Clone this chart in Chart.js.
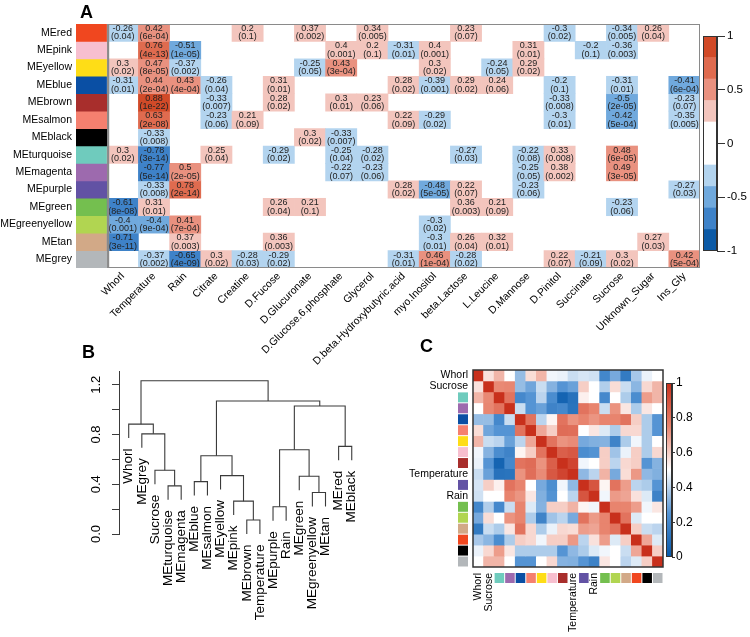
<!DOCTYPE html>
<html><head><meta charset="utf-8">
<script src="https://cdn.jsdelivr.net/npm/chart.js@4.4.1/dist/chart.umd.min.js"></script>
<style>
body{margin:0;background:#fff;}
#wrap{position:relative;width:750px;height:637px;overflow:hidden;background:#fff;}
canvas{position:absolute;left:0;top:0;}
.pl{position:absolute;font:bold 18px "Liberation Sans",Arial,sans-serif;line-height:18px;color:#000;}
</style></head><body>
<div id="wrap">
<canvas id="cA" width="750" height="637"></canvas>
<canvas id="cAbar" width="750" height="637"></canvas>
<canvas id="cB" width="750" height="637"></canvas>
<canvas id="cC" width="750" height="637"></canvas>
<canvas id="cCbar" width="750" height="637"></canvas>
<div class="pl" style="left:80px;top:3px">A</div>
<div class="pl" style="left:82px;top:343px">B</div>
<div class="pl" style="left:420px;top:337px">C</div>
</div>
<script>
const FONT = '"Liberation Sans", Arial, sans-serif';
Chart.defaults.font.family = FONT;
Chart.defaults.color = '#000';
Chart.defaults.animation = false;
Chart.defaults.plugins.legend.display = false;
Chart.defaults.plugins.tooltip.enabled = false;

// ---------- Panel A data ----------
const moduleNames = ['MEred','MEpink','MEyellow','MEblue','MEbrown','MEsalmon','MEblack','MEturquoise','MEmagenta','MEpurple','MEgreen','MEgreenyellow','MEtan','MEgrey'];
const moduleColors = ['#f0471f','#f7bfcf','#fedd17','#0a4fa4','#a82e2c','#f5806f','#000000','#6fcbbd','#9d6aae','#6252a4','#74bf4f','#b1d551','#d2a987','#b3b7ba'];
const traitNames = ['Whorl','Temperature','Rain','Citrate','Creatine','D.Fucose','D.Glucuronate','D.Glucose.6.phosphate','Glycerol','D.beta.Hydroxybutyric.acid','myo.Inositol','beta.Lactose','L.Leucine','D.Mannose','D.Pinitol','Succinate','Sucrose','Unknown_Sugar','Ins_Gly'];
const N = null;
const corrValues = [
  [-0.26,0.42,N,N,0.2,N,0.37,N,0.34,N,N,0.23,N,N,-0.3,N,-0.34,0.26,N],
  [N,0.76,-0.51,N,N,N,N,0.4,0.2,-0.31,0.4,N,N,0.31,N,-0.2,-0.36,N,N],
  [0.3,0.47,-0.37,N,N,N,-0.25,0.43,N,N,0.3,N,-0.24,0.29,N,N,N,N,N],
  [-0.31,0.44,0.43,-0.26,N,0.31,N,N,N,0.28,-0.39,0.29,0.24,N,-0.2,N,-0.31,N,-0.41],
  [N,0.88,N,-0.33,N,0.28,N,0.3,0.23,N,N,N,N,N,-0.33,N,-0.5,N,-0.23],
  [N,0.63,N,-0.23,0.21,N,N,N,N,0.22,-0.29,N,N,N,-0.3,N,-0.42,N,-0.35],
  [N,-0.33,N,N,N,N,0.3,-0.33,N,N,N,N,N,N,N,N,N,N,N],
  [0.3,-0.78,N,0.25,N,-0.29,N,-0.25,-0.28,N,N,-0.27,N,-0.22,0.33,N,0.48,N,N],
  [N,-0.77,0.5,N,N,N,N,-0.22,-0.23,N,N,N,N,-0.25,0.38,N,0.49,N,N],
  [N,-0.33,0.78,N,N,N,N,N,N,0.28,-0.48,0.22,N,-0.23,N,N,N,N,-0.27],
  [-0.61,0.31,N,N,N,0.26,0.21,N,N,N,N,0.36,0.21,N,N,N,-0.23,N,N],
  [-0.4,-0.4,0.41,N,N,N,N,N,N,N,-0.3,N,N,N,N,N,N,N,N],
  [-0.71,N,0.37,N,N,0.36,N,N,N,N,-0.3,0.26,0.32,N,N,N,N,0.27,N],
  [N,-0.37,-0.65,0.3,-0.28,-0.29,N,N,N,-0.31,0.46,-0.28,N,N,0.22,-0.21,0.3,N,0.42]
];
const pValues = [
  ['0.04','6e-04',N,N,'0.1',N,'0.002',N,'0.005',N,N,'0.07',N,N,'0.02',N,'0.005','0.04',N],
  [N,'4e-13','1e-05',N,N,N,N,'0.001','0.1','0.01','0.001',N,N,'0.01',N,'0.1','0.003',N,N],
  ['0.02','8e-05','0.002',N,N,N,'0.05','3e-04',N,N,'0.02',N,'0.05','0.02',N,N,N,N,N],
  ['0.01','2e-04','4e-04','0.04',N,'0.01',N,N,N,'0.02','0.001','0.02','0.06',N,'0.1',N,'0.01',N,'6e-04'],
  [N,'1e-22',N,'0.007',N,'0.02',N,'0.01','0.06',N,N,N,N,N,'0.008',N,'2e-05',N,'0.07'],
  [N,'2e-08',N,'0.06','0.09',N,N,N,N,'0.09','0.02',N,N,N,'0.01',N,'5e-04',N,'0.005'],
  [N,'0.008',N,N,N,N,'0.02','0.007',N,N,N,N,N,N,N,N,N,N,N],
  ['0.02','3e-14',N,'0.04',N,'0.02',N,'0.04','0.02',N,N,'0.03',N,'0.08','0.008',N,'6e-05',N,N],
  [N,'5e-14','2e-05',N,N,N,N,'0.07','0.06',N,N,N,N,'0.05','0.002',N,'3e-05',N,N],
  [N,'0.008','2e-14',N,N,N,N,N,N,'0.02','5e-05','0.07',N,'0.06',N,N,N,N,'0.03'],
  ['8e-08','0.01',N,N,N,'0.04','0.1',N,N,N,N,'0.003','0.09',N,N,N,'0.06',N,N],
  ['0.001','9e-04','7e-04',N,N,N,N,N,N,N,'0.02',N,N,N,N,N,N,N,N],
  ['3e-11',N,'0.003',N,N,'0.003',N,N,N,N,'0.01','0.04','0.01',N,N,N,N,'0.03',N],
  [N,'0.002','4e-09','0.02','0.03','0.02',N,N,N,'0.01','1e-04','0.02',N,N,'0.07','0.09','0.02',N,'5e-04']
];
const cbBreaks = [-1,-0.8,-0.6,-0.4,-0.2,0,0.2,0.4,0.6,0.8,1];
const cbColors = ['#0c5aa6','#3e82c8','#70a9dd','#b3d4ef','#ffffff','#ffffff','#f3c5bd','#e9917f','#df6b4f','#d14a28'];

// ---------- Panel B data ----------
const leafOrder = ['Whorl','MEgrey','Sucrose','MEturquoise','MEmagenta','MEblue','MEsalmon','MEyellow','MEpink','MEbrown','Temperature','MEpurple','Rain','MEgreen','MEgreenyellow','MEtan','MEred','MEblack'];
const mergeLeft  = ['MEbrown','MEpurple','MEpink','MEgreenyellow','MEturquoise','MEblue','MEgreen','MEyellow','Sucrose','#5','#1','MEred','MEgrey','Whorl','#10','#9','#13'];
const mergeRight = ['Temperature','Rain','#0','MEtan','MEmagenta','MEsalmon','#3','#2','#4','#7','#6','MEblack','#8','#12','#11','#14','#15'];
const mergeHeight = [0.112,0.219,0.264,0.333,0.387,0.421,0.464,0.469,0.512,0.629,0.677,0.704,0.805,0.883,1.029,1.069,1.232];
const bTickValues = [0,0.2,0.4,0.6,0.8,1.0,1.2];
const bTickLabels = ['0.0','','0.4','','0.8','','1.2'];

// ---------- Panel C data ----------
const cNames = ['Whorl','Sucrose','MEturquoise','MEmagenta','MEblue','MEsalmon','MEyellow','MEpink','MEbrown','Temperature','MEpurple','Rain','MEgreen','MEgreenyellow','MEtan','MEred','MEblack','MEgrey'];
const cMatrix = [
  [1,.56,.65,.5,.345,.57,.65,.48,.47,.42,.44,.43,.195,.3,.145,.37,.47,.5],
  [.56,1,.74,.745,.345,.29,.42,.32,.25,.28,.6,.5,.385,.57,.42,.33,.58,.65],
  [.65,.74,1,.8,.2,.25,.4,.22,.05,.11,.53,.5,.2,.5,.38,.22,.7,.65],
  [.5,.745,.8,1,.42,.25,.28,.18,.2,.115,.8,.75,.42,.72,.55,.38,.55,.5],
  [.345,.345,.2,.42,1,.8,.4,.52,.8,.72,.75,.715,.75,.75,.8,.6,.38,.25],
  [.57,.29,.25,.25,.8,1,.68,.6,.82,.815,.5,.55,.45,.38,.58,.58,.38,.25],
  [.65,.42,.4,.28,.4,.68,1,.8,.72,.735,.3,.315,.32,.18,.38,.48,.38,.5],
  [.48,.32,.22,.18,.52,.6,.8,1,.86,.88,.22,.245,.6,.36,.47,.6,.38,.58],
  [.47,.25,.05,.2,.8,.82,.72,.86,1,.94,.48,.5,.6,.4,.58,.6,.25,.32],
  [.42,.28,.11,.115,.72,.815,.735,.88,.94,1,.335,.4,.655,.3,.57,.71,.335,.315],
  [.44,.6,.53,.8,.75,.5,.3,.22,.48,.335,1,.89,.52,.8,.7,.4,.38,.25],
  [.43,.5,.5,.75,.715,.55,.315,.245,.5,.4,.89,1,.48,.705,.685,.56,.45,.175],
  [.195,.385,.2,.42,.75,.45,.32,.6,.6,.655,.52,.48,1,.75,.75,.7,.48,.55],
  [.3,.57,.5,.72,.75,.38,.18,.36,.4,.3,.8,.705,.75,1,.8,.45,.5,.5],
  [.145,.42,.38,.55,.8,.58,.38,.47,.58,.57,.7,.685,.75,.8,1,.6,.42,.4],
  [.37,.33,.22,.38,.6,.58,.48,.6,.6,.71,.4,.56,.7,.45,.6,1,.68,.45],
  [.47,.58,.7,.55,.38,.38,.38,.38,.25,.335,.38,.45,.48,.5,.42,.68,1,.6],
  [.5,.65,.65,.5,.25,.25,.5,.58,.32,.315,.25,.175,.55,.5,.4,.45,.6,1]
];
const cStops = [0,0.25,0.5,0.75,1];
const cStopColors = [[5,88,170],[85,148,212],[255,255,255],[232,132,110],[200,48,28]];

// ---------- helpers ----------
function cellColor(r){
  if (r > 0){ if (r > 0.8) return cbColors[9]; if (r > 0.6) return cbColors[8]; if (r > 0.4) return cbColors[7]; return cbColors[6]; }
  if (r <= -0.8) return cbColors[0]; if (r <= -0.6) return cbColors[1]; if (r <= -0.4) return cbColors[2]; return cbColors[3];
}
function colorC(v){
  for (let k=0;k<cStops.length-1;k++){
    if (v <= cStops[k+1]){
      const t=(v-cStops[k])/(cStops[k+1]-cStops[k]);
      const a=cStopColors[k], b=cStopColors[k+1];
      return 'rgb('+a.map((c,m)=>Math.round(c+(b[m]-c)*t)).join(',')+')';
    }
  }
  return 'rgb('+cStopColors[cStopColors.length-1].join(',')+')';
}
function swatchOf(name){ const k = moduleNames.indexOf(name); return k<0?null:moduleColors[k]; }
const plainNum = v => String(Math.round(v*10)/10);
const TRANSP = 'rgba(0,0,0,0)';

// ---------- Chart A ----------
new Chart(document.getElementById('cA'), {
  type: 'bar',
  data: {
    labels: ['', ...traitNames],
    datasets: moduleNames.map((m,i)=>({
      label: m,
      data: [[i,i+1], ...corrValues[i].map(v => v===null ? null : [i,i+1])],
      backgroundColor: [moduleColors[i], ...corrValues[i].map(v => v===null ? TRANSP : cellColor(v))],
      borderWidth: 0, grouped: false, barPercentage: 1, categoryPercentage: 1
    }))
  },
  options: {
    responsive: false,
    layout: { padding: { left: 0, right: 50, top: 24, bottom: 0 } },
    scales: {
      x: { type: 'category', grid: { display: false, drawTicks: false }, border: { display: false },
           ticks: { autoSkip: false, minRotation: 45, maxRotation: 45, font: { size: 10.5 }, color: '#000', padding: 2 },
           afterFit: s => { s.height = 369; } },
      y: { type: 'linear', min: 0, max: 14, reverse: true,
           grid: { display: false, drawTicks: false }, border: { display: false },
           afterBuildTicks: s => { s.ticks = moduleNames.map((_,i)=>({ value: i+0.5 })); },
           ticks: { autoSkip: false, callback: (v, idx) => moduleNames[idx], font: { size: 10.5 }, color: '#000', padding: 4 },
           afterFit: s => { s.width = 76; } }
    }
  },
  plugins: [{
    id: 'cellText',
    afterDatasetsDraw(chart){
      const { ctx, scales: { x, y }, chartArea } = chart;
      ctx.save();
      ctx.font = '9px ' + FONT; ctx.fillStyle = '#222'; ctx.textAlign = 'center'; ctx.textBaseline = 'middle';
      corrValues.forEach((row,i)=>row.forEach((v,j)=>{
        if (v===null) return;
        const cx = x.getPixelForValue(j+1), cy = y.getPixelForValue(i+0.5);
        ctx.fillText(String(v), cx, cy-4.2);
        ctx.fillText('('+pValues[i][j]+')', cx, cy+4.2);
      }));
      const lx = x.getPixelForValue(0.5);
      ctx.strokeStyle = '#8a8a8a'; ctx.lineWidth = 1;
      ctx.strokeRect(lx+0.5, chartArea.top+0.5, chartArea.right-lx-1, chartArea.bottom-chartArea.top-1);
      ctx.lineWidth = 2; ctx.beginPath(); ctx.moveTo(lx+1, chartArea.top); ctx.lineTo(lx+1, chartArea.bottom); ctx.stroke();
      ctx.restore();
    }
  }]
});

// ---------- Colorbar A ----------
new Chart(document.getElementById('cAbar'), {
  type: 'bar',
  data: { labels: ['r'], datasets: cbColors.map((c,k)=>({ data: [[cbBreaks[k], cbBreaks[k+1]]], backgroundColor: c, borderWidth: 0, grouped: false, barPercentage: 1, categoryPercentage: 1 })) },
  options: {
    responsive: false,
    layout: { padding: { left: 703, right: 0, top: 36, bottom: 386 } },
    scales: {
      x: { display: false },
      y: { position: 'right', min: -1, max: 1,
           ticks: { stepSize: 0.5, font: { size: 11.5 }, color: '#000', padding: 2, callback: v => plainNum(v) },
           grid: { drawOnChartArea: false, drawTicks: true, tickLength: 8, color: '#333' },
           border: { display: true, color: '#333' },
           afterFit: s => { s.width = 33; } }
    }
  },
  plugins: [{ id: 'frameA', afterDraw(chart){ const {ctx, chartArea:a} = chart; ctx.save(); ctx.strokeStyle='#333'; ctx.lineWidth=1; ctx.strokeRect(a.left+0.5,a.top+0.5,a.right-a.left-1,a.bottom-a.top-1); ctx.restore(); } }]
});

// ---------- Chart B (dendrogram) ----------
const hang = 0.1 * (Math.max(...mergeHeight) - Math.min(...mergeHeight));
const mergeX = [];
const leafBottom = {};
const segments = [];
function nodeInfo(id, parentH){
  if (id[0] === '#'){ const k = +id.slice(1); return { x: mergeX[k], bottom: mergeHeight[k] }; }
  const bottom = parentH - hang; leafBottom[id] = bottom;
  return { x: leafOrder.indexOf(id) + 1, bottom };
}
mergeHeight.forEach((h,k)=>{
  const L = nodeInfo(mergeLeft[k], h), R = nodeInfo(mergeRight[k], h);
  mergeX[k] = (L.x + R.x) / 2;
  segments.push([{x:L.x,y:L.bottom},{x:L.x,y:h},{x:R.x,y:h},{x:R.x,y:R.bottom}]);
});
new Chart(document.getElementById('cB'), {
  type: 'scatter',
  data: { datasets: segments.map(s=>({ data: s, showLine: true, borderColor: '#3a3a3a', borderWidth: 1.1, pointRadius: 0, tension: 0 })) },
  options: {
    responsive: false,
    layout: { padding: { left: 0, right: 391.7, top: 371, bottom: 103 } },
    scales: {
      x: { type: 'linear', min: 0.26, max: 18.5, display: false },
      y: { type: 'linear', min: 0, max: 1.31, position: 'left',
           afterBuildTicks: s => { s.ticks = bTickValues.map(v=>({ value: v })); },
           ticks: { display: false },
           grid: { drawOnChartArea: false, drawTicks: true, tickLength: 7, color: '#3a3a3a' },
           border: { display: true, color: '#3a3a3a' },
           afterFit: s => { s.width = 119; } }
    }
  },
  plugins: [{
    id: 'dendroLabels',
    afterDatasetsDraw(chart){
      const { ctx, scales: { x, y } } = chart;
      ctx.save();
      ctx.font = '13.5px ' + FONT; ctx.fillStyle = '#000';
      ctx.textAlign = 'right'; ctx.textBaseline = 'middle';
      leafOrder.forEach((n,i)=>{
        ctx.save(); ctx.translate(x.getPixelForValue(i+1), y.getPixelForValue(leafBottom[n]) + 10.5);
        ctx.rotate(-Math.PI/2); ctx.fillText(n, 0, 0); ctx.restore();
      });
      ctx.textAlign = 'center'; ctx.font = '13px ' + FONT;
      bTickValues.forEach((v,k)=>{
        if (!bTickLabels[k]) return;
        ctx.save(); ctx.translate(96, y.getPixelForValue(v)); ctx.rotate(-Math.PI/2); ctx.fillText(bTickLabels[k], 0, 0); ctx.restore();
      });
      ctx.restore();
    }
  }]
});

// ---------- Chart C ----------
const isTrait = n => !n.startsWith('ME');
new Chart(document.getElementById('cC'), {
  type: 'bar',
  data: {
    labels: cNames,
    datasets: cNames.map((n,i)=>({
      label: n, data: cNames.map(()=>[i,i+1]),
      backgroundColor: cMatrix[i].map(colorC),
      borderWidth: 0, grouped: false, barPercentage: 1, categoryPercentage: 1
    }))
  },
  options: {
    responsive: false,
    layout: { padding: { left: 0, right: 87, top: 370, bottom: 0 } },
    scales: {
      x: { type: 'category', grid: { display: false, drawTicks: false }, border: { display: false },
           ticks: { autoSkip: false, minRotation: 90, maxRotation: 90, font: { size: 10.5 }, color: '#000', padding: 6,
                    callback: (v, idx) => isTrait(cNames[idx]) ? cNames[idx] : '' },
           afterFit: s => { s.height = 70; } },
      y: { type: 'linear', min: 0, max: 18, reverse: true,
           grid: { display: false, drawTicks: false }, border: { display: false },
           afterBuildTicks: s => { s.ticks = cNames.map((_,i)=>({ value: i+0.5 })); },
           ticks: { autoSkip: false, callback: (v, idx) => isTrait(cNames[idx]) ? cNames[idx] : '', font: { size: 10.5 }, color: '#000', padding: 5 },
           afterFit: s => { s.width = 473; } }
    }
  },
  plugins: [{
    id: 'cDecor',
    afterDraw(chart){
      const { ctx, scales: { x, y }, chartArea: a } = chart;
      const cw = x.getPixelForValue(1) - x.getPixelForValue(0);
      const rh = Math.abs(y.getPixelForValue(1) - y.getPixelForValue(0));
      ctx.save();
      cNames.forEach((n,i)=>{
        const c = swatchOf(n); if (!c) return;
        ctx.fillStyle = c;
        const yc = y.getPixelForValue(i+0.5);
        ctx.fillRect(a.left-15, yc-rh/2+0.5, 10, rh-1);
        const xc = x.getPixelForValue(i);
        ctx.fillRect(xc-cw/2+0.5, a.bottom+6, cw-1, 10);
      });
      ctx.strokeStyle = '#333'; ctx.lineWidth = 1.5;
      ctx.strokeRect(a.left, a.top, a.right-a.left, a.bottom-a.top);
      ctx.restore();
    }
  }]
});

// ---------- Colorbar C ----------
new Chart(document.getElementById('cCbar'), {
  type: 'bar',
  data: { labels: ['v'], datasets: [{ data: [[0,1]], borderWidth: 0, barPercentage: 1, categoryPercentage: 1,
    backgroundColor: (c) => {
      const ch = c.chart, a = ch.chartArea; if (!a) return '#fff';
      const g = ch.ctx.createLinearGradient(0, a.bottom, 0, a.top);
      cStops.forEach((s,k)=> g.addColorStop(s, 'rgb('+cStopColors[k].join(',')+')'));
      return g;
    } }] },
  options: {
    responsive: false,
    layout: { padding: { left: 666, right: 0, top: 383, bottom: 80 } },
    scales: {
      x: { display: false },
      y: { position: 'right', min: 0, max: 1,
           ticks: { stepSize: 0.2, font: { size: 12 }, color: '#000', padding: 1, callback: v => plainNum(v) },
           grid: { drawOnChartArea: false, drawTicks: true, tickLength: 3, color: '#333' },
           border: { display: true, color: '#333' },
           afterFit: s => { s.width = 78; } }
    }
  },
  plugins: [{ id: 'frameC', afterDraw(chart){ const {ctx, chartArea:a} = chart; ctx.save(); ctx.strokeStyle='#333'; ctx.lineWidth=1; ctx.strokeRect(a.left+0.5,a.top+0.5,a.right-a.left-1,a.bottom-a.top-1); ctx.restore(); } }]
});
</script>
</body></html>
